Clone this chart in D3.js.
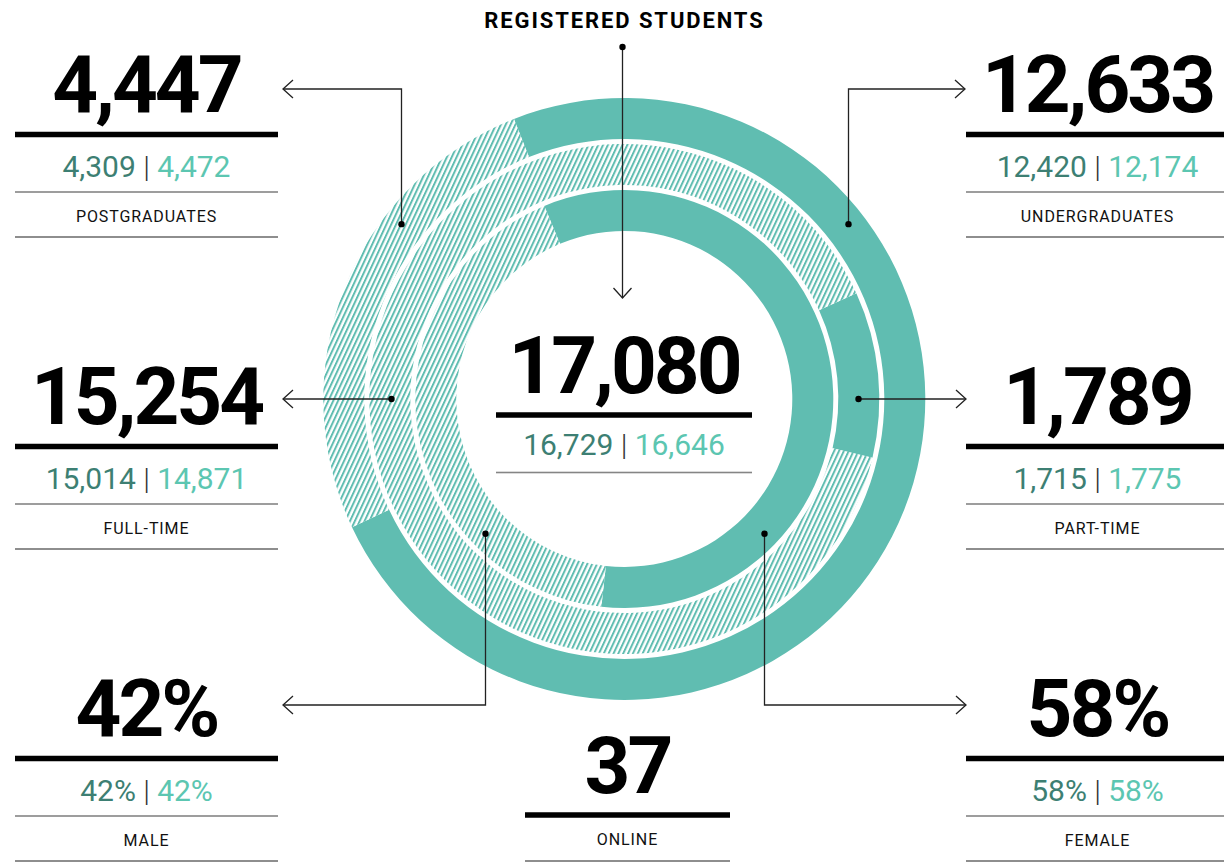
<!DOCTYPE html>
<html>
<head>
<meta charset="utf-8">
<script src="https://cdn.jsdelivr.net/npm/d3@7"></script>
<style>
  html, body { margin: 0; padding: 0; background: #fff; }
  svg { display: block; }
</style>
</head>
<body>
<svg id="chart" width="1224" height="862"></svg>
<script>
// ---------------- DATA ----------------
const categories = ["POSTGRADUATES", "UNDERGRADUATES", "FULL-TIME", "PART-TIME", "MALE", "FEMALE"];
const valuesCurrent = [4447, 12633, 15254, 1789, 42, 58];
const valuesPrev1   = [4309, 12420, 15014, 1715, 42, 58];
const valuesPrev2   = [4472, 12174, 14871, 1775, 42, 58];
const isPercent     = [false, false, false, false, true, true];
const totalTitle = "REGISTERED STUDENTS";
const totalValues = [17080, 16729, 16646];
const onlineLabel = "ONLINE";
const onlineValue = 37;

// ring composition: [solid category index, hatched category index]
const ringPairs = [[1, 0], [3, 2], [5, 4]];

// ---------------- LAYOUT / STYLE ----------------
const W = 1224, H = 862;
const cx = 624.3, cy = 399;
const teal = "#60bdb1";
const darkTeal = "#3d7f73";
const lightTeal = "#5cc6b1";
const ringRadii = [[260, 301], [214, 255], [168, 209]];   // outer, middle, inner
const deg = Math.PI / 180;

const svg = d3.select("#chart");
const defs = svg.append("defs");
const pat = defs.append("pattern")
  .attr("id", "hatch")
  .attr("patternUnits", "userSpaceOnUse")
  .attr("width", 4.4).attr("height", 10)
  .attr("patternTransform", "rotate(25)");
pat.append("rect").attr("width", 4.4).attr("height", 10).attr("fill", "#fff");
pat.append("rect").attr("width", 2.0).attr("height", 10).attr("fill", teal);

const fmt = d3.format(",");
const fmtVal = (v, i) => isPercent[i] ? v + "%" : fmt(v);

// ---------------- RINGS ----------------
const ringStarts = (() => {
  const outerStart = -21.5 * deg;
  const innerStart = -22.5 * deg;
  const a = valuesCurrent[3], b = valuesCurrent[2];
  const partSpan = a / (a + b) * 2 * Math.PI;
  const middleStart = 84.4 * deg - partSpan / 2;
  return [outerStart, middleStart, innerStart];
})();

const gRings = svg.append("g").attr("transform", `translate(${cx},${cy})`);
ringPairs.forEach((pair, r) => {
  const data = pair.map((ci, k) => ({ cat: categories[ci], value: valuesCurrent[ci], hatched: k === 1 }));
  const pie = d3.pie().sort(null).value(d => d.value)
    .startAngle(ringStarts[r]).endAngle(ringStarts[r] + 2 * Math.PI);
  const arc = d3.arc().innerRadius(ringRadii[r][0]).outerRadius(ringRadii[r][1]);
  gRings.selectAll(null).data(pie(data)).join("path")
    .attr("d", arc)
    .attr("fill", d => d.data.hatched ? "url(#hatch)" : teal);
});

// ---------------- CONNECTORS ----------------
const lineColor = "#222";
const gConn = svg.append("g").attr("fill", "none").attr("stroke", lineColor).attr("stroke-width", 1.3);
// [category index, dot angle (deg), dot radius, arrow y, arrow tip x]
const connectors = [
  [0, -52, 284, 89, 283],
  [1, 52, 284, 89, 965],
  [2, -90, 233.5, 399, 283],
  [3, 90, 233.5, 399, 966],
  [4, -134, 194, 705, 283],
  [5, 134, 194, 705, 966]
];
connectors.forEach(([ci, ang, rad, ay, tipX]) => {
  const dx = cx + rad * Math.sin(ang * deg);
  const dy = cy - rad * Math.cos(ang * deg);
  const dxr = Math.round(dx) + 0.5;
  gConn.append("path").attr("d", `M${dxr},${dy}V${ay}H${tipX}`);
  const s = tipX < cx ? 1 : -1;
  gConn.append("path").attr("d", `M${tipX + s * 10},${ay - 9}L${tipX},${ay}L${tipX + s * 10},${ay + 9}`);
  svg.append("circle").attr("cx", dxr).attr("cy", dy).attr("r", 3.2).attr("fill", "#000");
});
// title connector
const tX = 622.5;
gConn.append("path").attr("d", `M${tX},47V298`);
gConn.append("path").attr("d", `M${tX - 9},288L${tX},298L${tX + 9},288`);
svg.append("circle").attr("cx", tX).attr("cy", 47).attr("r", 3.2).attr("fill", "#000");

// ---------------- TEXT PANELS ----------------
const bigFont = "Roboto, 'Noto Sans', sans-serif";
function bigNumber(g, x, y, txt) {
  g.append("text").attr("x", x).attr("y", y).attr("text-anchor", "middle")
    .style("font-family", bigFont).style("font-weight", 700)
    .style("font-size", "80px").style("letter-spacing", "-3px")
    .attr("fill", "#000").text(txt);
}
function subValues(g, x, y, a, b) {
  const t = g.append("text").attr("x", x).attr("y", y).attr("text-anchor", "middle")
    .style("font-family", bigFont).style("font-weight", 400).style("font-size", "30px");
  t.append("tspan").attr("fill", darkTeal).text(a);
  t.append("tspan").attr("fill", "#333").style("font-weight", 300).text(" | ");
  t.append("tspan").attr("fill", lightTeal).text(b);
}
function label(g, x, y, txt) {
  g.append("text").attr("x", x).attr("y", y).attr("text-anchor", "middle")
    .style("font-family", bigFont).style("font-weight", 400).style("font-size", "16px")
    .style("letter-spacing", "0.9px").attr("fill", "#111").text(txt);
}
function hline(g, x0, x1, y, w, c) {
  g.append("rect").attr("x", x0).attr("y", y - w / 2).attr("width", x1 - x0).attr("height", w).attr("fill", c);
}

const panelX = [[15, 278], [966, 1229]];
const panelDY = [0, 312, 624];
const gText = svg.append("g");
categories.forEach((cat, i) => {
  const side = i % 2;
  const row = Math.floor(i / 2);
  const [x0, x1] = panelX[side];
  const xm = (x0 + x1) / 2;
  const oy = panelDY[row];
  bigNumber(gText, xm, 112 + oy, fmtVal(valuesCurrent[i], i));
  hline(gText, x0, x1, 134.5 + oy, 5.5, "#000");
  subValues(gText, xm, 177 + oy, fmtVal(valuesPrev1[i], i), fmtVal(valuesPrev2[i], i));
  hline(gText, x0, x1, 192 + oy, 1.6, "#858585");
  label(gText, xm, 222 + oy, cat);
  hline(gText, x0, x1, 237 + oy, 1.2, "#444");
});

// centre total
const cX0 = 496, cX1 = 752, cXm = (cX0 + cX1) / 2;
bigNumber(gText, cXm, 393, fmt(totalValues[0]));
hline(gText, cX0, cX1, 415, 5.5, "#000");
subValues(gText, cXm, 455, fmt(totalValues[1]), fmt(totalValues[2]));
hline(gText, cX0, cX1, 472.5, 1.6, "#858585");

// title
gText.append("text").attr("x", 624.5).attr("y", 28).attr("text-anchor", "middle")
  .style("font-family", bigFont).style("font-weight", 700).style("font-size", "22px")
  .style("letter-spacing", "1.9px").attr("fill", "#000").text(totalTitle);

// online
const oX0 = 525, oX1 = 730, oXm = (oX0 + oX1) / 2;
bigNumber(gText, oXm, 793, fmt(onlineValue));
hline(gText, oX0, oX1, 815, 5.5, "#000");
label(gText, oXm, 845, onlineLabel);
hline(gText, oX0, oX1, 861, 1.2, "#444");
</script>
</body>
</html>
